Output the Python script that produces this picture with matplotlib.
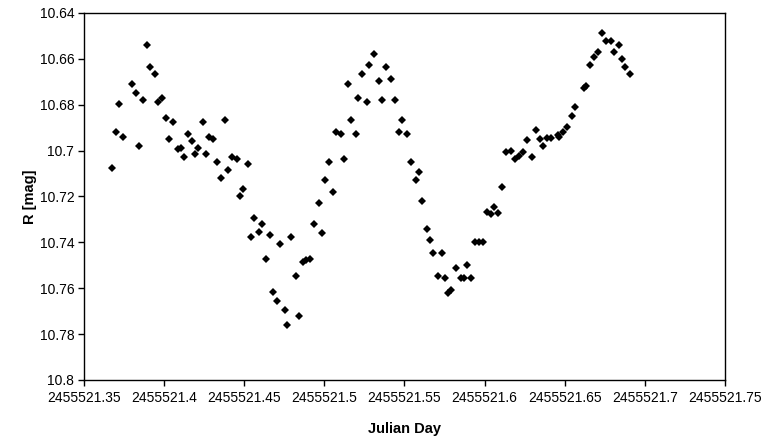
import numpy as np
import matplotlib
matplotlib.use("Agg")
import matplotlib.pyplot as plt

plt.rcParams['font.family'] = ['Liberation Sans', 'DejaVu Sans']

JD_BASE = 2455521

# fractional day of each observation (JD - 2455521)
jd_frac = [
    0.3675, 0.3698, 0.3720, 0.3745, 0.3801, 0.3824, 0.3845, 0.3870, 0.3893, 0.3912,
    0.3943, 0.3964, 0.3985, 0.4012, 0.4030, 0.4053, 0.4085, 0.4103, 0.4124, 0.4147,
    0.4174, 0.4193, 0.4213, 0.4243, 0.4261, 0.4282, 0.4307, 0.4328, 0.4355, 0.4380,
    0.4400, 0.4425, 0.4453, 0.4473, 0.4494, 0.4521, 0.4540, 0.4563, 0.4594, 0.4613,
    0.4634, 0.4661, 0.4681, 0.4702, 0.4723, 0.4754, 0.4769, 0.4792, 0.4821, 0.4843,
    0.4865, 0.4885, 0.4910, 0.4933, 0.4965, 0.4985, 0.5002, 0.5031, 0.5052, 0.5071,
    0.5102, 0.5121, 0.5146, 0.5168, 0.5195, 0.5212, 0.5233, 0.5264, 0.5280, 0.5311,
    0.5341, 0.5360, 0.5384, 0.5414, 0.5439, 0.5466, 0.5486, 0.5514, 0.5540, 0.5570,
    0.5592, 0.5612, 0.5638, 0.5661, 0.5680, 0.5711, 0.5732, 0.5753, 0.5773, 0.5790,
    0.5821, 0.5852, 0.5873, 0.5890, 0.5913, 0.5940, 0.5967, 0.5992, 0.6015, 0.6040,
    0.6060, 0.6083, 0.6110, 0.6136, 0.6163, 0.6189, 0.6216, 0.6241, 0.6266, 0.6296,
    0.6319, 0.6345, 0.6366, 0.6387, 0.6412, 0.6460, 0.6466, 0.6487, 0.6512, 0.6543,
    0.6562, 0.6620, 0.6633, 0.6657, 0.6681, 0.6709, 0.6732, 0.6755, 0.6787, 0.6807,
    0.6837, 0.6857, 0.6878, 0.6907,
]

r_mag = [
    10.7076, 10.6918, 10.6798, 10.6939, 10.6710, 10.6747, 10.6979, 10.6779, 10.6540, 10.6637,
    10.6666, 10.6787, 10.6772, 10.6856, 10.6949, 10.6877, 10.6993, 10.6987, 10.7027, 10.6929,
    10.6958, 10.7016, 10.6987, 10.6877, 10.7016, 10.6939, 10.6949, 10.7048, 10.7121, 10.6867,
    10.7085, 10.7027, 10.7037, 10.7197, 10.7169, 10.7058, 10.7378, 10.7295, 10.7356, 10.7320,
    10.7474, 10.7368, 10.7615, 10.7656, 10.7408, 10.7696, 10.7760, 10.7378, 10.7547, 10.7720,
    10.7484, 10.7477, 10.7474, 10.7320, 10.7227, 10.7358, 10.7130, 10.7048, 10.7179, 10.6918,
    10.6929, 10.7037, 10.6710, 10.6867, 10.6929, 10.6769, 10.6666, 10.6789, 10.6627, 10.6579,
    10.6696, 10.6778, 10.6637, 10.6686, 10.6778, 10.6918, 10.6867, 10.6929, 10.7048, 10.7130,
    10.7095, 10.7218, 10.7340, 10.7388, 10.7448, 10.7547, 10.7448, 10.7557, 10.7619, 10.7608,
    10.7510, 10.7557, 10.7557, 10.7497, 10.7557, 10.7400, 10.7400, 10.7400, 10.7266, 10.7276,
    10.7247, 10.7274, 10.7160, 10.7006, 10.7000, 10.7036, 10.7025, 10.7008, 10.6955, 10.7027,
    10.6910, 10.6949, 10.6980, 10.6946, 10.6946, 10.6932, 10.6942, 10.6920, 10.6896, 10.6848,
    10.6809, 10.6728, 10.6718, 10.6627, 10.6591, 10.6569, 10.6486, 10.6521, 10.6521, 10.6569,
    10.6540, 10.6601, 10.6637, 10.6666,
]

x_ticks = [0.35, 0.40, 0.45, 0.50, 0.55, 0.60, 0.65, 0.70, 0.75]
x_tick_labels = ["2455521.35", "2455521.4", "2455521.45", "2455521.5", "2455521.55",
                 "2455521.6", "2455521.65", "2455521.7", "2455521.75"]
y_ticks = [10.64, 10.66, 10.68, 10.70, 10.72, 10.74, 10.76, 10.78, 10.80]
y_tick_labels = ["10.64", "10.66", "10.68", "10.7", "10.72", "10.74", "10.76", "10.78", "10.8"]

# plot on the fractional day so the float precision stays fine
x = np.array(jd_frac)

fig = plt.figure(figsize=(7.65, 4.4), dpi=100)
ax = fig.add_axes([0.1098, 0.1364, 0.8379, 0.8341])

ax.plot(x, r_mag, linestyle='none', marker='D', markersize=3.6,
        color='black', markeredgewidth=0)

ax.set_xlim(0.35, 0.75)
ax.set_ylim(10.80, 10.64)
ax.set_xticks(x_ticks)
ax.set_xticklabels(x_tick_labels)
ax.set_yticks(y_ticks)
ax.set_yticklabels(y_tick_labels)

ax.tick_params(direction='out', length=4, width=1, labelsize=10,
               colors='black', pad=3)
ax.tick_params(axis='x', pad=4)
for s in ax.spines.values():
    s.set_linewidth(1)
    s.set_color('black')

ax.set_xlabel("Julian Day", fontsize=10.5, fontweight='bold', labelpad=12)
ax.set_ylabel("R [mag]", fontsize=10.5, fontweight='bold', labelpad=2)

fig.savefig("out.png", dpi=100, facecolor='white')
